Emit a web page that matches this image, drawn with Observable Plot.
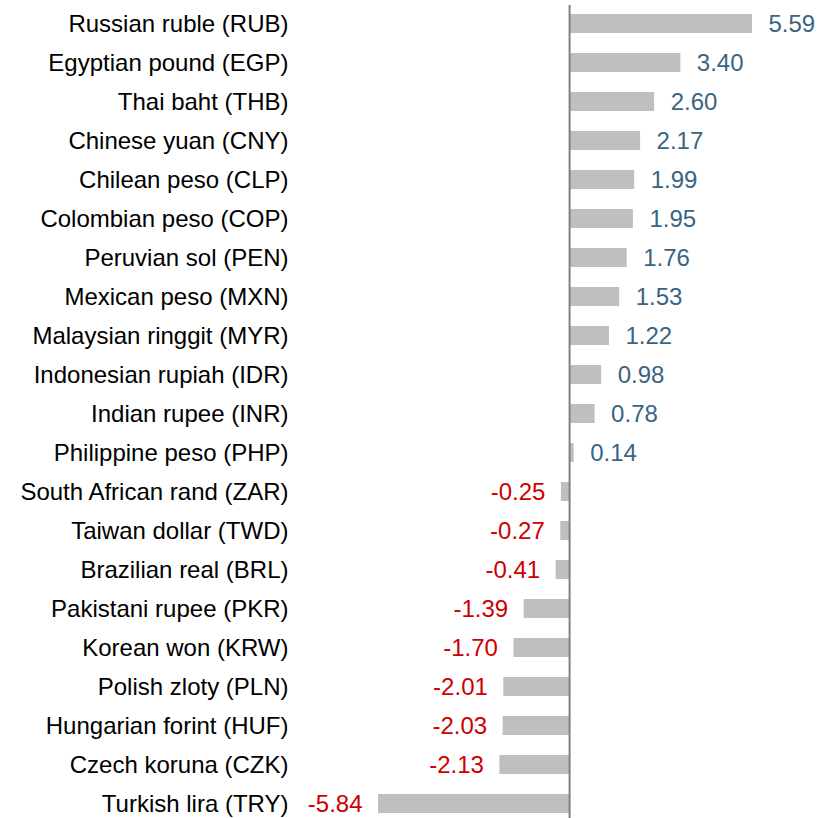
<!DOCTYPE html>
<html>
<head>
<meta charset="utf-8">
<script src="https://cdn.jsdelivr.net/npm/d3@7"></script>
<script src="https://cdn.jsdelivr.net/npm/@observablehq/plot@0.6"></script>
<style>
  html, body { margin: 0; padding: 0; background: #fff; }
  #chart svg { display: block; }
</style>
</head>
<body>
<div id="chart"></div>
<script>
const currencies = [
  "Russian ruble (RUB)", "Egyptian pound (EGP)", "Thai baht (THB)", "Chinese yuan (CNY)",
  "Chilean peso (CLP)", "Colombian peso (COP)", "Peruvian sol (PEN)", "Mexican peso (MXN)",
  "Malaysian ringgit (MYR)", "Indonesian rupiah (IDR)", "Indian rupee (INR)", "Philippine peso (PHP)",
  "South African rand (ZAR)", "Taiwan dollar (TWD)", "Brazilian real (BRL)", "Pakistani rupee (PKR)",
  "Korean won (KRW)", "Polish zloty (PLN)", "Hungarian forint (HUF)", "Czech koruna (CZK)",
  "Turkish lira (TRY)"
];
const values = [5.59, 3.40, 2.60, 2.17, 1.99, 1.95, 1.76, 1.53, 1.22, 0.98, 0.78, 0.14,
  -0.25, -0.27, -0.41, -1.39, -1.70, -2.01, -2.03, -2.13, -5.84];

const data = currencies.map((name, i) => ({name, value: values[i]}));
const pos = data.filter(d => d.value >= 0);
const neg = data.filter(d => d.value < 0);

const font = "'Liberation Sans', Arial, sans-serif";
const fs = 24;

const chart = Plot.plot({
  width: 831,
  height: 818,
  marginLeft: 378,
  marginRight: 79,
  marginTop: 5,
  marginBottom: 0,
  style: {fontFamily: font, fontSize: fs + "px", color: "#000", background: "#fff"},
  x: {domain: [-5.84, 5.59], axis: null},
  y: {domain: currencies, range: [3.5, 823.5], paddingInner: 0.51, paddingOuter: 0.255, label: null},
  marks: [
    Plot.axisY({tickSize: 0, tickPadding: 90, fontSize: fs, fill: "#000", label: null}),
    Plot.barX(data, {x: "value", y: "name", fill: "#bfbfbf"}),
    Plot.ruleX([0], {stroke: "#808080", strokeWidth: 2}),
    Plot.text(pos, {x: "value", y: "name", text: d => d.value.toFixed(2), textAnchor: "start", dx: 16, fill: "#3a6482", fontSize: fs}),
    Plot.text(neg, {x: "value", y: "name", text: d => d.value.toFixed(2), textAnchor: "end", dx: -16, fill: "#cc0000", fontSize: fs})
  ]
});
document.getElementById("chart").appendChild(chart);
</script>
</body>
</html>
